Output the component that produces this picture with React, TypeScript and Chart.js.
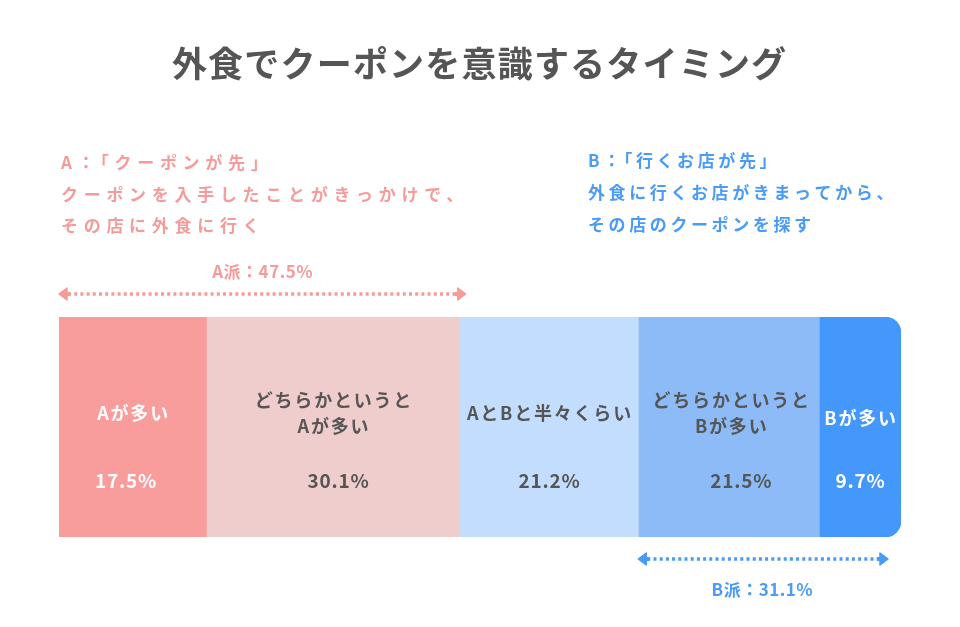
import React, { useEffect, useRef } from "react";
import { Chart, registerables } from "chart.js";

Chart.register(...registerables);

const titleText = "外食でクーポンを意識するタイミング";
const categories = ["Aが多い", "どちらかというと\nAが多い", "AとBと半々くらい", "どちらかというと\nBが多い", "Bが多い"];
const values = [17.5, 30.1, 21.2, 21.5, 9.7];
const segmentColors = ["#F89D9C", "#F0CDCD", "#C2DDFD", "#8DBBF7", "#4498FB"];
const labelColors = ["#FFFFFF", "#555555", "#555555", "#555555", "#FFFFFF"];
const noteA = ["A：「クーポンが先」", "クーポンを入手したことがきっかけで、", "その店に外食に行く"];
const noteB = ["B：「行くお店が先」", "外食に行くお店がきまってから、", "その店のクーポンを探す"];
const groupA = "A派：47.5%";
const groupB = "B派：31.1%";
const groupAEnd = 47.6; // end of segment 2
const groupBStart = 68.8; // start of segment 4

const pink = "#F59C9B";
const blue = "#4A9BF6";
const FONT = '"Noto Sans CJK JP", "Noto Sans", sans-serif';

function setSpacing(ctx: any, px: number) {
  if ("letterSpacing" in ctx) ctx.letterSpacing = px + "px";
}

function drawText(ctx: any, text: string, x: number, y: number, spacing: number, align: "left" | "center") {
  setSpacing(ctx, spacing);
  ctx.textAlign = "left";
  let w = ctx.measureText(text).width;
  if ("letterSpacing" in ctx) w -= spacing;
  const sx = align === "center" ? x - w / 2 : x;
  ctx.fillText(text, sx, y);
  setSpacing(ctx, 0);
}

function drawArrow(ctx: any, x1: number, x2: number, y: number, color: string) {
  ctx.save();
  ctx.strokeStyle = color;
  ctx.fillStyle = color;
  ctx.lineWidth = 3.5;
  ctx.setLineDash([3, 3.2]);
  ctx.beginPath();
  ctx.moveTo(x1 + 9, y);
  ctx.lineTo(x2 - 9, y);
  ctx.stroke();
  ctx.setLineDash([]);
  ctx.lineJoin = "round";
  ctx.lineWidth = 1.5;
  ctx.beginPath();
  ctx.moveTo(x1, y);
  ctx.lineTo(x1 + 8, y - 6);
  ctx.lineTo(x1 + 8, y + 6);
  ctx.closePath();
  ctx.fill();
  ctx.stroke();
  ctx.fillRect(x1 + 7, y - 2, 4, 4);
  ctx.beginPath();
  ctx.moveTo(x2, y);
  ctx.lineTo(x2 - 8, y - 6);
  ctx.lineTo(x2 - 8, y + 6);
  ctx.closePath();
  ctx.fill();
  ctx.stroke();
  ctx.fillRect(x2 - 11, y - 2, 4, 4);
  ctx.restore();
}

const pctOffsets = [-7, 5, 0, 12, 0];

const annotPlugin = {
  id: "annot",
  afterDatasetsDraw(chart: any) {
    const ctx = chart.ctx;
    const xs = chart.scales.x;
    ctx.save();
    ctx.textBaseline = "middle";

    // title
    ctx.fillStyle = "#555555";
    ctx.font = `bold 35px ${FONT}`;
    drawText(ctx, titleText, 479, 64, 1.2, "center");

    // notes
    ctx.font = `bold 17px ${FONT}`;
    ctx.fillStyle = pink;
    noteA.forEach((t, i) => drawText(ctx, t, 61, 163 + i * 31.5, 5.7, "left"));
    ctx.fillStyle = blue;
    noteB.forEach((t, i) => drawText(ctx, t, 588, 161 + i * 32, 3.6, "left"));

    // group arrows
    const a1 = xs.getPixelForValue(0);
    const a2 = xs.getPixelForValue(groupAEnd) + 6;
    drawArrow(ctx, a1, a2, 294, pink);
    ctx.fillStyle = pink;
    ctx.font = `bold 17px ${FONT}`;
    drawText(ctx, groupA, (a1 + a2) / 2, 272, 0.5, "center");

    const b1 = xs.getPixelForValue(groupBStart);
    const b2 = xs.getPixelForValue(100) - 13;
    drawArrow(ctx, b1, b2, 559, blue);
    ctx.fillStyle = blue;
    drawText(ctx, groupB, (b1 + b2) / 2 - 1, 590, 0.5, "center");

    // segment labels
    chart.data.datasets.forEach((ds: any, i: number) => {
      const bar = chart.getDatasetMeta(i).data[0];
      if (!bar) return;
      const cx = (bar.x + bar.base) / 2;
      const lines = String(ds.label).split("\n");
      ctx.fillStyle = labelColors[i];
      ctx.font = `bold 18px ${FONT}`;
      const top = 413 - (lines.length - 1) * 13 + (i === 4 ? 5 : 0);
      const dx = i === 3 ? 2 : 0;
      lines.forEach((l, k) => drawText(ctx, l, cx + dx, top + k * 26, 1.8, "center"));
      ctx.font = `bold 19px ${FONT}`;
      drawText(ctx, values[i].toFixed(1) + "%", cx + pctOffsets[i], 481, 0.8, "center");
    });
    ctx.restore();
  },
};

export default function App() {
  const ref = useRef<HTMLCanvasElement>(null);
  useEffect(() => {
    document.body.style.margin = "0";
    const c = ref.current!;
    const chart = new Chart(c, {
      type: "bar",
      data: {
        labels: [""],
        datasets: categories.map((cat, i) => ({
          label: cat,
          data: [values[i]],
          backgroundColor: segmentColors[i],
          borderWidth: 0,
          borderSkipped: false,
          borderRadius: i === categories.length - 1 ? { topLeft: 0, bottomLeft: 0, topRight: 16, bottomRight: 16 } : 0,
          barPercentage: 1,
          categoryPercentage: 1,
        })),
      },
      options: {
        indexAxis: "y",
        animation: false,
        responsive: false,
        maintainAspectRatio: false,
        layout: { padding: { left: 59, right: 59, top: 317, bottom: 90 } },
        scales: {
          x: { stacked: true, min: 0, max: 100, display: false },
          y: { stacked: true, display: false },
        },
        plugins: {
          legend: { display: false },
          tooltip: { enabled: false },
          title: { display: false },
        },
      },
      plugins: [annotPlugin],
    } as any);
    return () => chart.destroy();
  }, []);
  return (
    <div style={{ position: "absolute", left: 0, top: 0, width: 960, height: 627, background: "#fff" }}>
      <canvas ref={ref} width={960} height={627} style={{ width: 960, height: 627, display: "block" }} />
    </div>
  );
}
